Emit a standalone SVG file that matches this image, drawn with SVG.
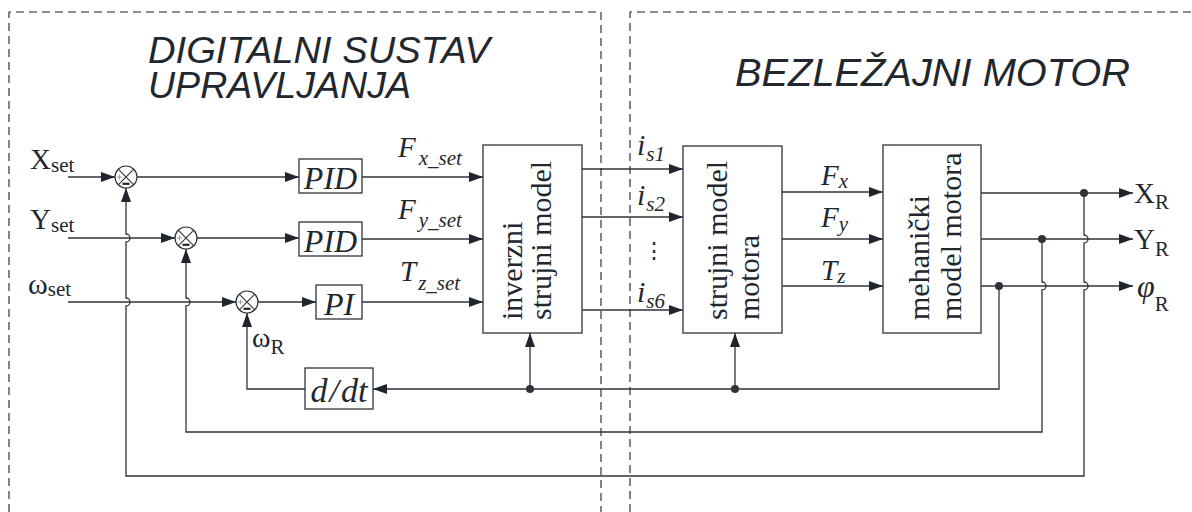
<svg xmlns="http://www.w3.org/2000/svg" xmlns:xlink="http://www.w3.org/1999/xlink" width="1192" height="512" viewBox="0 0 1192 512">
<style>
.ln{fill:none;stroke:#2e333a;stroke-width:1.3}
.ar{marker-end:url(#arr)}
.box{fill:#fff;stroke:#2e333a;stroke-width:1.3}
.dash{fill:none;stroke:#222;stroke-width:1.1;stroke-dasharray:8 5}
.title{font-family:"Liberation Sans",Arial,sans-serif;font-style:italic;fill:#22272e}
.s{font-family:"Liberation Serif","Times New Roman",serif;fill:#22272e}
.i{font-style:italic}
.vt{font-family:"Liberation Serif","Times New Roman",serif;font-size:30px;fill:#22272e}
.dot{fill:#2e333a}
</style>
<defs>
<marker id="arr" markerUnits="userSpaceOnUse" markerWidth="15" markerHeight="11" refX="14" refY="5" orient="auto">
<path d="M0,0 L14,5 L0,10 z" fill="#1f252d"/>
</marker>
<g id="sumsym">
<circle r="11" fill="#fff" stroke="#2e333a" stroke-width="1.2"/>
<path d="M-7.8,-7.8 L7.8,7.8 M-7.8,7.8 L7.8,-7.8" stroke="#2e333a" stroke-width="1.1"/>
<path d="M-9,0 H-4 M-6.5,-2.5 V2.5" stroke="#999" stroke-width="0.9"/>
<path d="M-3.5,6.8 H3.5" stroke="#1f252d" stroke-width="2.2"/>
</g>
</defs>
<rect width="1192" height="512" fill="#fff"/>

<g id="frames">
<path class="dash" d="M9,512 V12 H601 V512"/>
<path class="dash" d="M630,512 V12 H1192"/>
<text class="title" x="148" y="63" font-size="36" textLength="342" lengthAdjust="spacingAndGlyphs">DIGITALNI SUSTAV</text>
<text class="title" x="148" y="98" font-size="36" textLength="263" lengthAdjust="spacingAndGlyphs">UPRAVLJANJA</text>
<text class="title" x="735" y="86" font-size="39" textLength="395" lengthAdjust="spacingAndGlyphs">BEZLEŽAJNI MOTOR</text>
</g>

<g id="connectors">
<path class="ln ar" d="M68,177 H115"/>
<path class="ln ar" d="M68,238 H175"/>
<path class="ln ar" d="M68,302 H236"/>
<path class="ln ar" d="M137,177 H299"/>
<path class="ln ar" d="M197,238 H299"/>
<path class="ln ar" d="M258,302 H316"/>
<path class="ln ar" d="M362,177 H483"/>
<path class="ln ar" d="M362,239 H483"/>
<path class="ln ar" d="M362,302 H483"/>
<path class="ln ar" d="M582,169 H683"/>
<path class="ln ar" d="M582,217 H683"/>
<path class="ln ar" d="M582,310 H683"/>
<path class="ln ar" d="M782,192 H883"/>
<path class="ln ar" d="M782,239 H883"/>
<path class="ln ar" d="M782,286 H883"/>
<path class="ln ar" d="M981,193 H1133"/>
<path class="ln ar" d="M981,239 H1133"/>
<path class="ln ar" d="M981,286 H1133"/>
<path class="ln ar" d="M999,286 V389 H373"/>
<path class="ln ar" d="M735,389 V333"/>
<path class="ln ar" d="M530,389 V333"/>
<path class="ln ar" d="M305,389 H247 V313"/>
<path class="ln ar" d="M1042,239 V282 a4,4 0 0 1 0,8 V432 H186 V306 a4,4 0 0 0 0,-8 V249"/>
<path class="ln ar" d="M1084,193 V235 a4,4 0 0 1 0,8 V282 a4,4 0 0 1 0,8 V476 H126 V306 a4,4 0 0 0 0,-8 V242 a4,4 0 0 0 0,-8 V188"/>
<circle class="dot" cx="1084" cy="193" r="4"/>
<circle class="dot" cx="1042" cy="239" r="4"/>
<circle class="dot" cx="999" cy="286" r="4"/>
<circle class="dot" cx="735" cy="389" r="4"/>
<circle class="dot" cx="530" cy="389" r="4"/>
</g>

<g id="labels">
<text class="s" x="30" y="169" font-size="29">X<tspan font-size="21" dy="3">set</tspan></text>
<text class="s" x="30" y="229" font-size="29">Y<tspan font-size="21" dy="3">set</tspan></text>
<text class="s" x="28" y="294" font-size="30">ω<tspan font-size="21" dy="2">set</tspan></text>
<text class="s i" x="398" y="157" font-size="29">F<tspan font-size="21" dx="3" dy="8">x_set</tspan></text>
<text class="s i" x="398" y="219" font-size="29">F<tspan font-size="21" dx="3" dy="8">y_set</tspan></text>
<text class="s i" x="400" y="281" font-size="29">T<tspan font-size="21" dx="2" dy="9">z_set</tspan></text>
<text class="s i" x="637" y="155" font-size="30">i<tspan font-size="21" dx="1" dy="6">s1</tspan></text>
<text class="s i" x="637" y="205" font-size="30">i<tspan font-size="21" dx="1" dy="6">s2</tspan></text>
<text class="s" x="643" y="258" font-size="22">⋮</text>
<text class="s i" x="637" y="302" font-size="30">i<tspan font-size="21" dx="1" dy="6">s6</tspan></text>
<text class="s i" x="821" y="185" font-size="29">F<tspan font-size="21" dy="3">x</tspan></text>
<text class="s i" x="821" y="227" font-size="29">F<tspan font-size="21" dy="4">y</tspan></text>
<text class="s i" x="821" y="280" font-size="29">T<tspan font-size="21" dy="3">z</tspan></text>
<text class="s" x="1134" y="203" font-size="29">X<tspan font-size="21" dy="6">R</tspan></text>
<text class="s" x="1134" y="249" font-size="29">Y<tspan font-size="21" dy="7">R</tspan></text>
<text class="s i" x="1137" y="297" font-size="32">φ<tspan font-style="normal" font-size="21" dy="14">R</tspan></text>
<text class="s" x="252" y="347" font-size="28">ω<tspan font-size="21" dy="7">R</tspan></text>
</g>

<g id="sum1"><use xlink:href="#sumsym" x="126" y="177"/></g>
<g id="sum2"><use xlink:href="#sumsym" x="186" y="238"/></g>
<g id="sum3"><use xlink:href="#sumsym" x="247" y="302"/></g>

<g id="pid1">
<rect class="box" x="299" y="159" width="63" height="34"/>
<text class="s i" x="330.5" y="189" font-size="32" text-anchor="middle">PID</text>
</g>
<g id="pid2">
<rect class="box" x="299" y="222" width="63" height="34"/>
<text class="s i" x="330.5" y="252" font-size="32" text-anchor="middle">PID</text>
</g>
<g id="pi">
<rect class="box" x="316" y="285" width="46" height="34"/>
<text class="s i" x="339" y="315" font-size="32" text-anchor="middle">PI</text>
</g>
<g id="ddt">
<rect class="box" x="305" y="368" width="68" height="41"/>
<text class="s i" x="339" y="402" font-size="34" text-anchor="middle">d<tspan dx="2">/</tspan><tspan dx="2">dt</tspan></text>
</g>
<g id="inverzni">
<rect class="box" x="483" y="145" width="99" height="188"/>
<text class="vt" transform="translate(522,320) rotate(-90)">inverzni</text>
<text class="vt" transform="translate(551,320) rotate(-90)">strujni model</text>
</g>
<g id="strujni">
<rect class="box" x="683" y="146" width="99" height="187"/>
<text class="vt" transform="translate(727,320) rotate(-90)">strujni model</text>
<text class="vt" transform="translate(759,320) rotate(-90)">motora</text>
</g>
<g id="mehanicki">
<rect class="box" x="883" y="145" width="98" height="188"/>
<text class="vt" transform="translate(929,320) rotate(-90)">mehanički</text>
<text class="vt" transform="translate(961,320) rotate(-90)">model motora</text>
</g>
</svg>
